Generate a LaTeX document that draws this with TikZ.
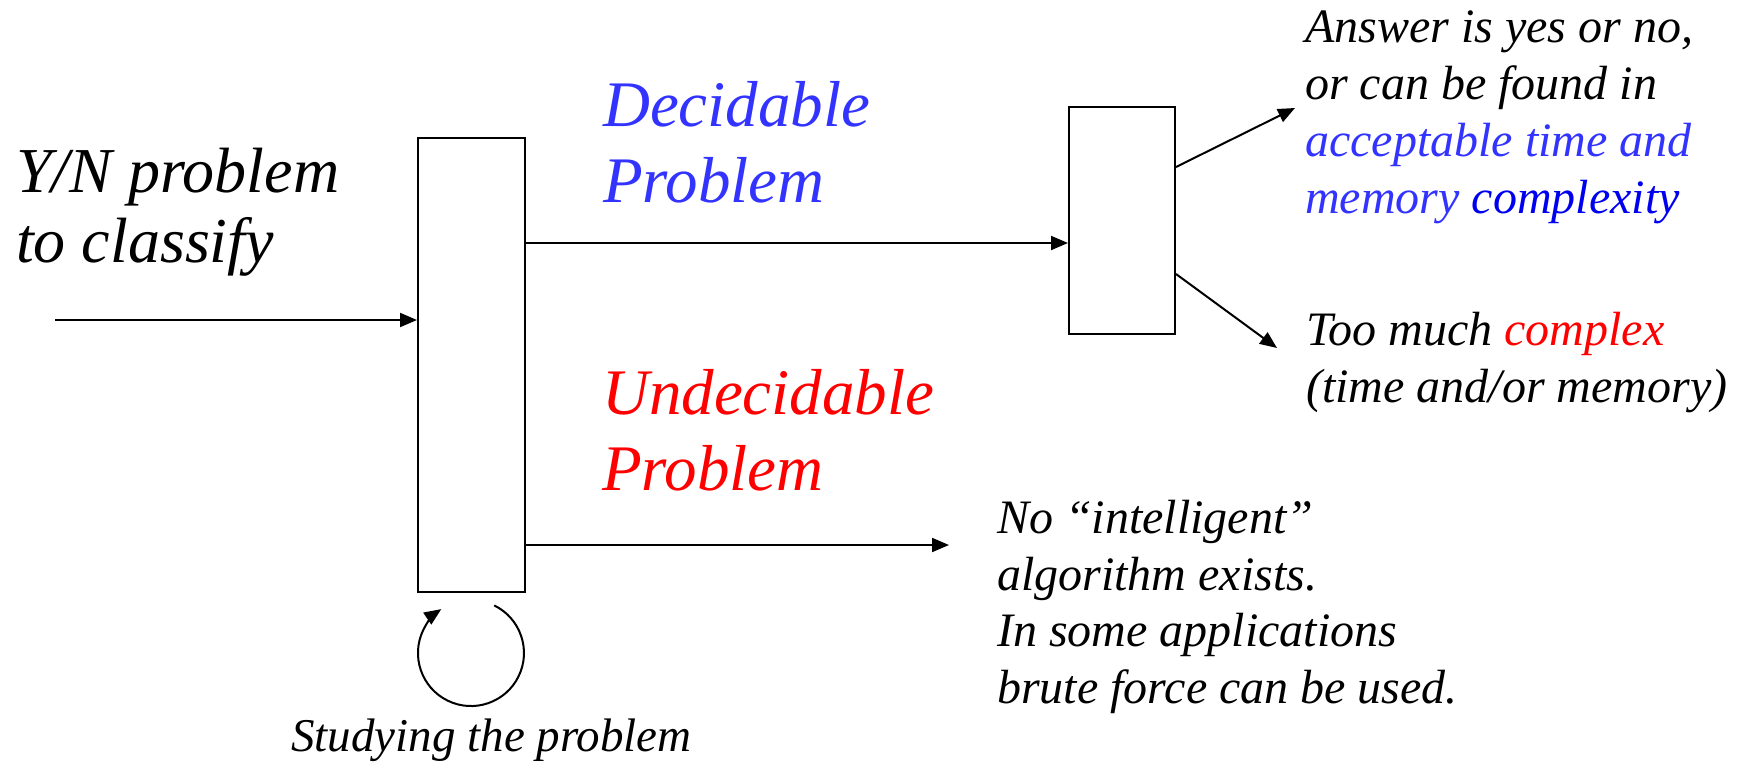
\documentclass[tikz,border=0pt]{standalone}
\usepackage{fontspec}
\setmainfont{Liberation Serif}
\usetikzlibrary{arrows.meta,calc}
\definecolor{lblue}{RGB}{51,51,255}
\definecolor{dblue}{RGB}{0,0,240}
\definecolor{hotred}{RGB}{255,0,0}
\begin{document}
\begin{tikzpicture}[x=1pt,y=-1pt,
  boxshape/.style={draw,line width=2pt,inner sep=0pt,fill=white},
  arr/.style={line width=2pt,-{Triangle[length=17pt,width=14pt]}},
  % multi-line labels are placed by the baseline of their last line
  bigtxt/.style={anchor=base west,inner sep=0pt,align=left,font=\fontsize{64}{70}\selectfont\itshape},
  midtxt/.style={anchor=base west,inner sep=0pt,align=left,font=\fontsize{65}{76}\selectfont\itshape},
  smalltxt/.style={anchor=base west,inner sep=0pt,align=left,font=\fontsize{48}{57}\selectfont\itshape}]
\useasboundingbox (0,0) rectangle (1740,769);

% boxes
\node[boxshape,minimum width=107pt,minimum height=454pt] (judge) at (471.5,364.5) {};
\node[boxshape,minimum width=106pt,minimum height=227pt] (dec) at (1122,220.5) {};

% texts
\node[bigtxt] (input) at (16,262) {Y/N problem\\to classify};
\node[midtxt,text=lblue] (declab) at (603,202) {Decidable\\Problem};
\node[midtxt,text=hotred] (undlab) at (602,490) {Undecidable\\Problem};
\node[smalltxt] (yes) at (1305,213) {Answer is yes or no,\\or can be found in\\{\color{lblue}acceptable time and}\\{\color{lblue}memory} {\color{dblue}complexity}};
\node[smalltxt] (toomuch) at (1306,402) {Too much {\color{hotred}complex}\\(time and/or memory)};
\node[smalltxt,font=\fontsize{48}{56.5}\selectfont\itshape] (noalg) at (997,703) {No ``intelligent''\\algorithm exists.\\In some applications\\brute force can be used.};
\node[smalltxt,font=\fontsize{47}{57}\selectfont\itshape] (study) at (291,751) {Studying the problem};

% connectors
\coordinate (src) at (55,320);
\coordinate (dy) at (0,243);
\coordinate (uy) at (0,545);
\coordinate (undend) at (949,545);
\coordinate (upy) at (0,167);
\coordinate (upend) at (1295,108);
\coordinate (lowy) at (0,274);
\coordinate (lowend) at (1277,348);

\draw[arr] (src) -- (judge.west |- src);
\draw[arr] (judge.east |- dy) -- (dec.west |- dy);
\draw[arr] (judge.east |- uy) -- (undend);
\draw[arr] (dec.east |- upy) -- (upend);
\draw[arr] (dec.east |- lowy) -- (lowend);

% self loop under the classifier box
\coordinate (loopc) at (471,653);
\draw[arr] ($(loopc)+(23.2,-47.6)$) arc[start angle=-64,end angle=236,radius=53];
\end{tikzpicture}
\end{document}
